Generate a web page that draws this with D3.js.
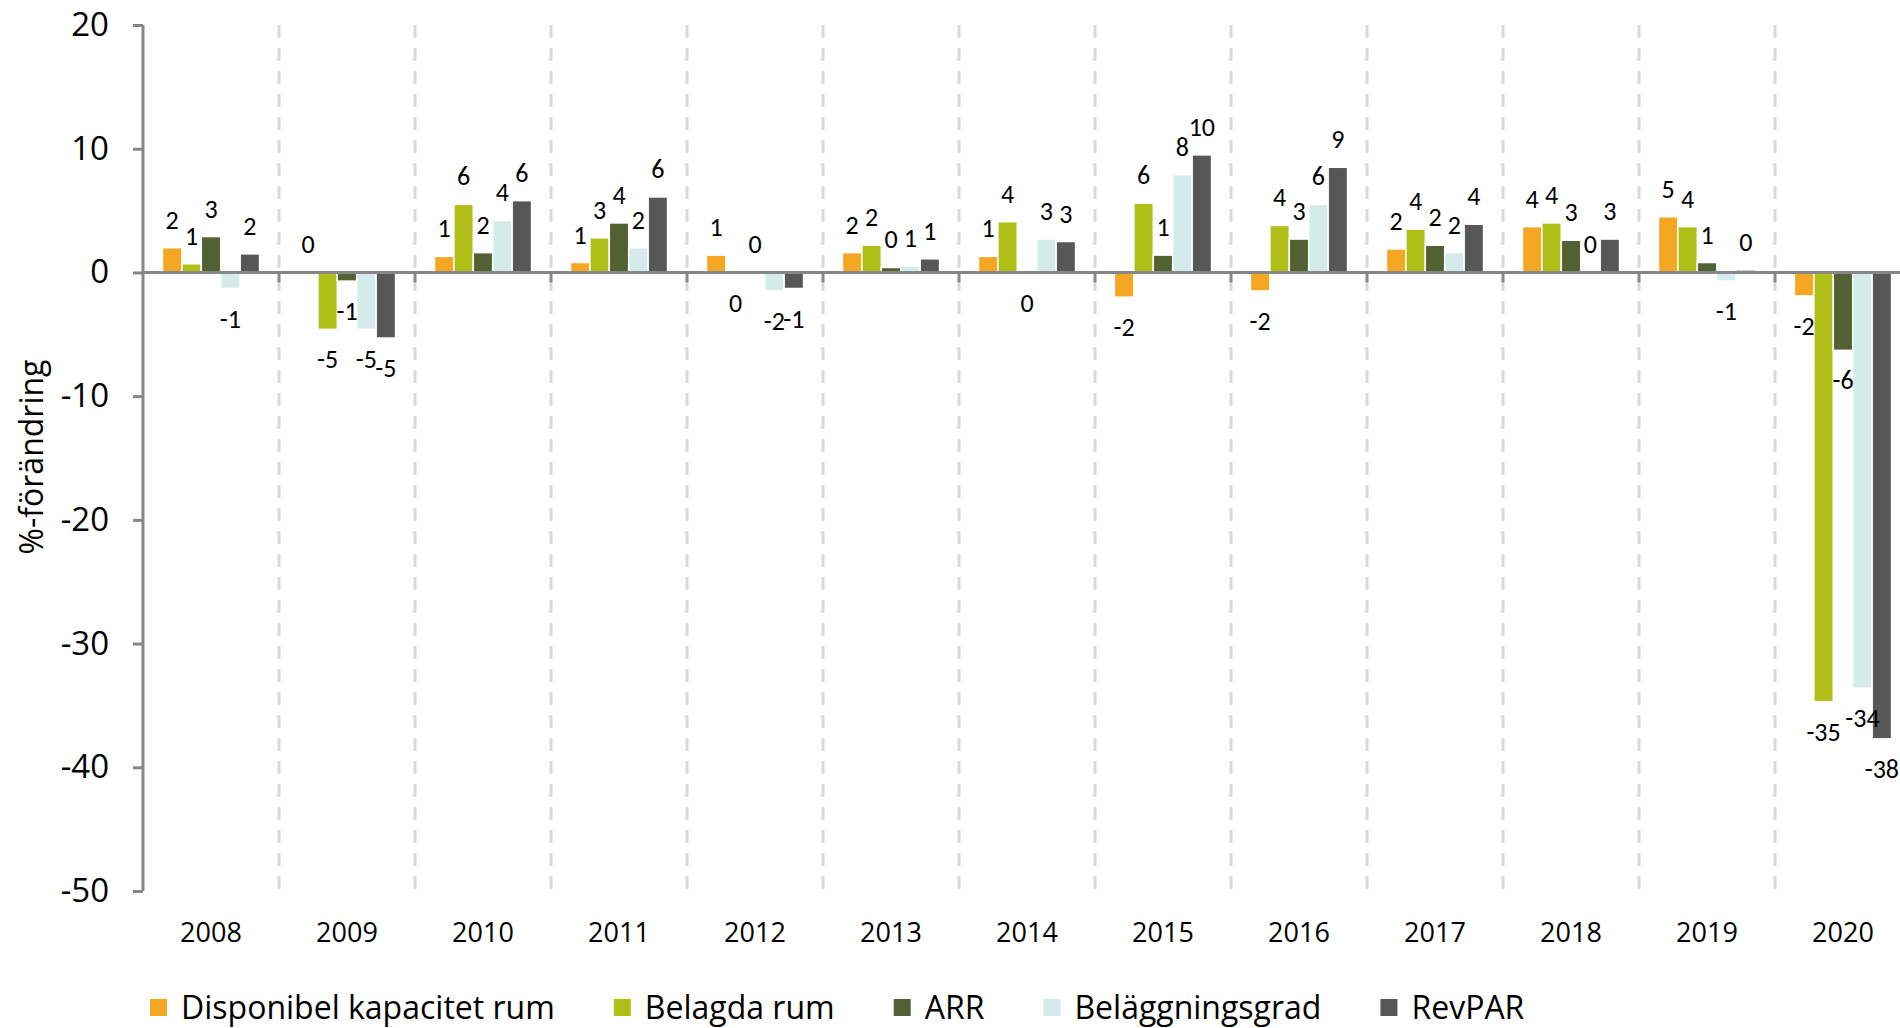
<!DOCTYPE html>
<html>
<head>
<meta charset="utf-8">
<title>Hotellmarknad %-förändring</title>
<script src="https://cdn.jsdelivr.net/npm/d3@7"></script>
<style>
  body { margin: 0; background: #fff; }
  svg { display: block; }
  .tick text { font-family: "Open Sans", sans-serif; }
</style>
</head>
<body>
<svg id="chart" width="1900" height="1028"></svg>
<script>
// data
var years = ['2008', '2009', '2010', '2011', '2012', '2013', '2014',
             '2015', '2016', '2017', '2018', '2019', '2020'];
var seriesNames = ['Disponibel kapacitet rum', 'Belagda rum', 'ARR', 'Beläggningsgrad', 'RevPAR'];
var seriesColors = ['#F5A623', '#AFBF17', '#526133', '#D5EBEA', '#575757'];

var disponibel = [2.0, 0.02, 1.3, 0.8, 1.4, 1.6, 1.3, -2.0, -1.5, 1.9, 3.7, 4.5, -1.9];
var belagda    = [0.7, -4.6, 5.5, 2.8, -0.05, 2.2, 4.1, 5.6, 3.8, 3.5, 4.0, 3.7, -34.7];
var arr        = [2.9, -0.7, 1.6, 4.0, 0.05, 0.4, -0.05, 1.4, 2.7, 2.2, 2.6, 0.8, -6.3];
var belaggning = [-1.3, -4.6, 4.2, 2.0, -1.5, 0.5, 2.7, 7.9, 5.5, 1.6, 0.05, -0.7, -33.6];
var revpar     = [1.5, -5.3, 5.8, 6.1, -1.3, 1.1, 2.5, 9.5, 8.5, 3.9, 2.7, 0.2, -37.7];

var yTicks = [20, 10, 0, -10, -20, -30, -40, -50];

var seriesValues = [disponibel, belagda, arr, belaggning, revpar];

var svg = d3.select('#chart');

// note: "top" is taken by window.top, so use other names
var plotLeft = 143, plotTop = 25, plotBottom = 891;
var step = 136;

var x = d3.scaleBand()
  .domain(years)
  .range([plotLeft, plotLeft + step * years.length]);

var xInner = d3.scaleBand()
  .domain(seriesNames)
  .range([0, x.bandwidth()])
  .paddingInner(0)
  .paddingOuter(1);

var y = d3.scaleLinear()
  .domain([-50, 20])
  .range([plotBottom, plotTop]);

var axisColor = '#878787';

// dashed dividers between years
var dividers = years.slice(1);
svg.append('g')
  .selectAll('line')
  .data(dividers)
  .enter()
  .append('line')
  .attr('x1', function(d) { return x(d); })
  .attr('x2', function(d) { return x(d); })
  .attr('y1', y(20))
  .attr('y2', y(-50))
  .attr('stroke', '#D9D9D9')
  .attr('stroke-width', 3)
  .attr('stroke-dasharray', '13,10');

// bars
var rows = [];
years.forEach(function(yr, i) {
  seriesNames.forEach(function(s, j) {
    rows.push({ year: yr, series: s, color: seriesColors[j], value: seriesValues[j][i] });
  });
});

svg.append('g')
  .selectAll('rect')
  .data(rows)
  .enter()
  .append('rect')
  .attr('x', function(d) { return x(d.year) + xInner(d.series); })
  .attr('width', xInner.bandwidth())
  .attr('y', function(d) { return y(Math.max(0, d.value)); })
  .attr('height', function(d) { return Math.abs(y(d.value) - y(0)); })
  .attr('fill', function(d) { return d.color; })
  .attr('stroke', '#fff')
  .attr('stroke-width', 1.5);

// data labels, plain hyphen for minus like the original
var fmt = function(v) {
  return String(Math.round(Math.abs(v)) * (v < 0 ? -1 : 1));
};

svg.append('g')
  .selectAll('text')
  .data(rows)
  .enter()
  .append('text')
  .attr('x', function(d) { return x(d.year) + xInner(d.series) + xInner.bandwidth() / 2; })
  .attr('y', function(d) { return d.value < 0 ? y(d.value) + 30 : y(d.value) - 28; })
  .attr('text-anchor', 'middle')
  .attr('dominant-baseline', 'central')
  .attr('font-family', "Carlito, Calibri, 'Liberation Sans Narrow', sans-serif")
  .attr('font-size', 26)
  .attr('fill', '#000')
  .text(function(d) { return fmt(d.value); });

// y axis
var yAxis = svg.append('g')
  .attr('transform', 'translate(' + plotLeft + ',0)')
  .call(d3.axisLeft(y).tickValues(yTicks).tickFormat(function(d) { return String(d); })
    .tickSize(10).tickPadding(24).tickSizeOuter(0));
yAxis.select('.domain').attr('stroke', axisColor).attr('stroke-width', 3)
  .attr('d', 'M0,' + y(20) + 'V' + y(-50));
yAxis.selectAll('.tick line').attr('stroke', axisColor).attr('stroke-width', 3);
yAxis.selectAll('.tick text').attr('font-size', 33).attr('fill', '#000');

// zero line with small ticks at dividers
svg.append('line')
  .attr('x1', plotLeft)
  .attr('x2', 1900)
  .attr('y1', y(0))
  .attr('y2', y(0))
  .attr('stroke', axisColor)
  .attr('stroke-width', 3);

svg.append('g')
  .selectAll('line')
  .data(dividers)
  .enter()
  .append('line')
  .attr('x1', function(d) { return x(d); })
  .attr('x2', function(d) { return x(d); })
  .attr('y1', y(0))
  .attr('y2', y(0) + 10)
  .attr('stroke', axisColor)
  .attr('stroke-width', 3);

// year labels
svg.append('g')
  .selectAll('text')
  .data(years)
  .enter()
  .append('text')
  .attr('x', function(d) { return x(d) + x.bandwidth() / 2; })
  .attr('y', 942)
  .attr('text-anchor', 'middle')
  .attr('font-family', "'Open Sans', sans-serif")
  .attr('font-size', 27)
  .attr('fill', '#000')
  .text(function(d) { return d; });

// y axis title
svg.append('text')
  .attr('transform', 'translate(43,457) rotate(-90)')
  .attr('text-anchor', 'middle')
  .attr('font-family', "'Open Sans', sans-serif")
  .attr('font-size', 32)
  .attr('fill', '#000')
  .text('%-förändring');

// legend
var legend = svg.append('g');
var lx = 150;
seriesNames.forEach(function(name, i) {
  var item = legend.append('g').attr('transform', 'translate(' + lx + ',0)');
  item.append('rect')
    .attr('x', 0)
    .attr('y', 999)
    .attr('width', 17)
    .attr('height', 17)
    .attr('fill', seriesColors[i]);
  var t = item.append('text')
    .attr('x', 31)
    .attr('y', 1019)
    .attr('font-family', "'Open Sans', sans-serif")
    .attr('font-size', 32)
    .attr('fill', '#000')
    .text(name);
  lx += 31 + t.node().getComputedTextLength() + 59;
});
</script>
</body>
</html>
